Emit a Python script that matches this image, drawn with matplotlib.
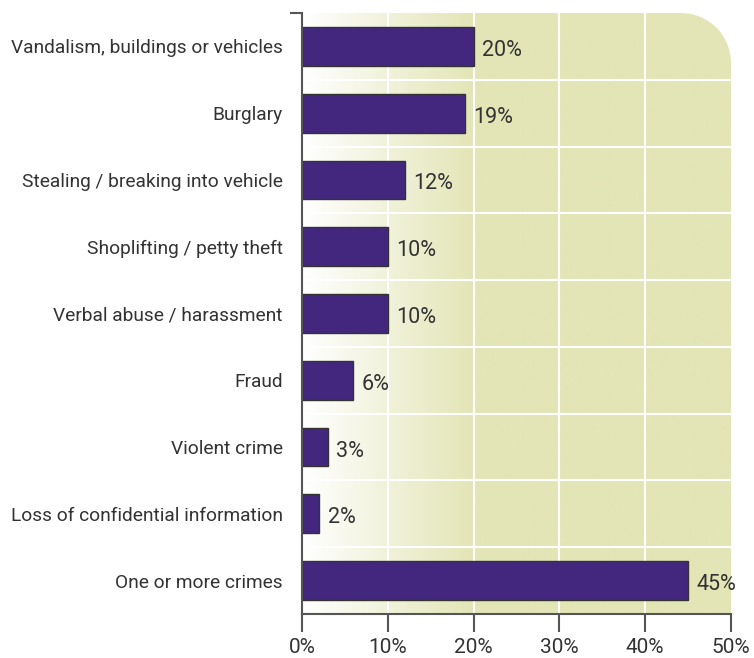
import numpy as np
import matplotlib
matplotlib.use('Agg')
import matplotlib.pyplot as plt
from matplotlib.path import Path
from matplotlib.patches import PathPatch
from matplotlib.colors import LinearSegmentedColormap

categories = ['Vandalism, buildings or vehicles', 'Burglary',
              'Stealing / breaking into vehicle', 'Shoplifting / petty theft',
              'Verbal abuse / harassment', 'Fraud', 'Violent crime',
              'Loss of confidential information', 'One or more crimes']
values = [20, 19, 12, 10, 10, 6, 3, 2, 45]
xticks = [0, 10, 20, 30, 40, 50]
xtick_labels = ['0%', '10%', '20%', '30%', '40%', '50%']

plt.rcParams['font.family'] = ['Roboto', 'DejaVu Sans']
text_col = '#333333'
bar_col = '#43277f'
bg_col = '#e3e5b6'

fig = plt.figure(figsize=(7.54, 6.58), dpi=100)
ax = fig.add_axes([0.4005, 0.0669, 0.5690, 0.9133])
ax.set_facecolor('none')

y = np.arange(len(categories))
ax.set_xlim(0, 50)
ax.set_ylim(len(categories) - 0.5, -0.5)

# background: white -> pale green over first 20%, flat after; rounded top-right corner
cmap = LinearSegmentedColormap.from_list('bg', ['#ffffff', bg_col])
grad = np.clip(np.linspace(0, 50, 500) / 20.0, 0, 1)[None, :]
im = ax.imshow(grad, cmap=cmap, vmin=0, vmax=1, aspect='auto',
               extent=(0, 50, len(categories) - 0.5, -0.5),
               interpolation='bilinear', zorder=0)
rx, ry = 50 / 429, 50 / 601
k = 0.5523
verts = [(0, 0), (1, 0), (1, 1 - ry), (1, 1 - ry + k * ry), (1 - rx + k * rx, 1),
         (1 - rx, 1), (0, 1), (0, 0)]
codes = [Path.MOVETO, Path.LINETO, Path.LINETO, Path.CURVE4, Path.CURVE4,
         Path.CURVE4, Path.LINETO, Path.CLOSEPOLY]
clip = PathPatch(Path(verts, codes), transform=ax.transAxes, facecolor='none',
                 edgecolor='none')
ax.add_patch(clip)
im.set_clip_path(clip)

# white grid
for gx in xticks[1:-1]:
    ax.axvline(gx, color='white', lw=1.5, zorder=1)
for gy in y[:-1] + 0.5:
    ax.axhline(gy, color='white', lw=1.5, zorder=1)

ax.barh(y, values, height=0.58, color=bar_col, edgecolor='#333333',
        linewidth=1.0, zorder=2)
for yi, v in zip(y, values):
    ax.text(v + 1.0, yi + 0.06, f'{v}%', va='center', ha='left',
            fontsize=15.5, color=text_col, zorder=3)

ax.set_yticks(y)
ax.set_yticklabels(categories, fontsize=13.8, color=text_col)
ax.tick_params(axis='y', length=0, pad=14)
ax.set_yticks([-0.5], minor=True)
ax.tick_params(axis='y', which='minor', length=9, width=1.5, color='#555555')

ax.set_xticks(xticks)
ax.set_xticklabels(xtick_labels, fontsize=15, color=text_col)
ax.tick_params(axis='x', length=13, width=1.5, color='#555555', pad=4)

for s in ['top', 'right']:
    ax.spines[s].set_visible(False)
for s in ['left', 'bottom']:
    ax.spines[s].set_color('#555555')
    ax.spines[s].set_linewidth(1.5)

fig.savefig('out.png', dpi=100)
